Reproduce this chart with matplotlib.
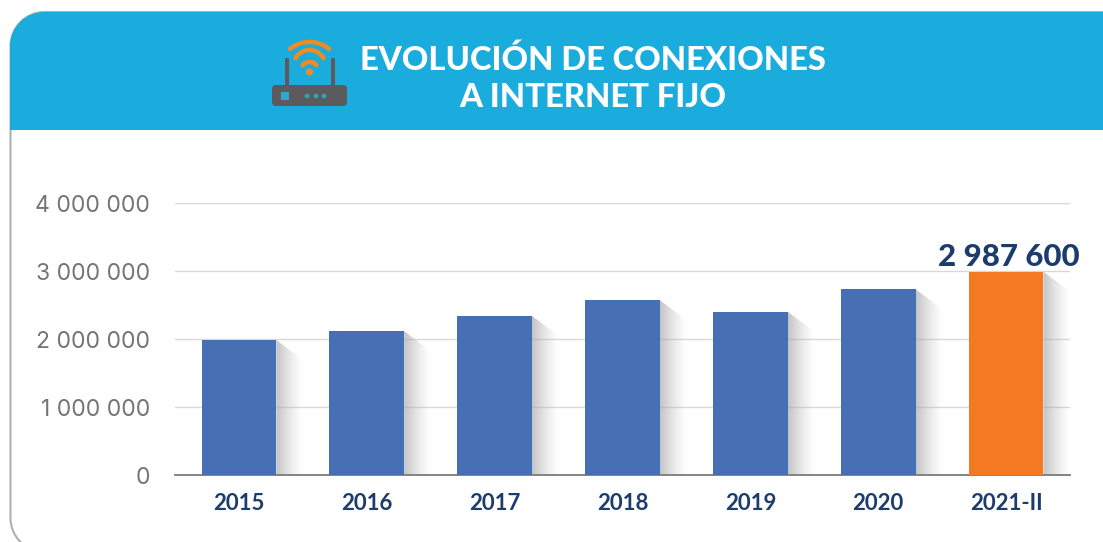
import numpy as np
import matplotlib
matplotlib.use("Agg")
import matplotlib.pyplot as plt
from matplotlib.patches import FancyBboxPatch, PathPatch, Rectangle, Circle, Polygon
from matplotlib.path import Path
from matplotlib.colors import LinearSegmentedColormap

categories = ["2015", "2016", "2017", "2018", "2019", "2020", "2021-II"]
values = [1985000, 2115000, 2340000, 2570000, 2400000, 2730000, 2987600]
yticks = [0, 1000000, 2000000, 3000000, 4000000]
ytick_labels = ["0", "1 000 000", "2 000 000", "3 000 000", "4 000 000"]
title = "EVOLUCIÓN DE CONEXIONES\nA INTERNET FIJO"
highlight = "2 987 600"

W, H = 1103, 542
BLUE, ORANGE, NAVY, GREY = "#466fb4", "#f47920", "#1c3c6e", "#757575"
BANNER = "#1aacdc"
plt.rcParams["font.family"] = ["Lato", "DejaVu Sans"]

fig = plt.figure(figsize=(W / 100, H / 100), dpi=100, facecolor="white")

# decoration layer in pixel coordinates
bg = fig.add_axes([0, 0, 1, 1], zorder=0)
bg.set_xlim(0, W); bg.set_ylim(H, 0); bg.axis("off")

def rounded(x0, x1, y0, y1, r, **kw):
    """Box open to the right, rounded on the left corners."""
    k = 0.45 * r
    verts = [(x1, y0), (x0 + r, y0), (x0 + k, y0), (x0, y0 + k), (x0, y0 + r),
             (x0, y1 - r), (x0, y1 - k), (x0 + k, y1), (x0 + r, y1), (x1, y1)]
    codes = [Path.MOVETO, Path.LINETO, Path.CURVE4, Path.CURVE4, Path.CURVE4,
             Path.LINETO, Path.CURVE4, Path.CURVE4, Path.CURVE4, Path.LINETO]
    return PathPatch(Path(verts, codes), **kw)

bg.add_patch(rounded(10.5, W + 5, 12, 552, 34, facecolor="white", edgecolor="#b0b0b0", lw=1.5))
# banner
k = 0.45 * 34
verts = [(W, 12), (44, 12), (10 + k, 12), (10, 12 + k), (10, 46), (10, 130), (W, 130), (W, 12)]
codes = [Path.MOVETO, Path.LINETO, Path.CURVE4, Path.CURVE4, Path.CURVE4, Path.LINETO, Path.LINETO, Path.CLOSEPOLY]
bg.add_patch(PathPatch(Path(verts, codes), facecolor=BANNER, edgecolor="none"))

bg.text(593, 78, title, color="white", ha="center", va="center", fontsize=23.6,
        fontweight="black", linespacing=1.34)

# router icon
DARK = "#5c5a5c"; WIFI = "#f28a24"; TEAL = "#2ba4b4"
bg.add_patch(FancyBboxPatch((272, 85), 75, 21, boxstyle="round,pad=0,rounding_size=4", fc=DARK, ec="none"))
bg.add_patch(FancyBboxPatch((285, 58), 4, 29, boxstyle="round,pad=0,rounding_size=1.5", fc=DARK, ec="none"))
bg.add_patch(FancyBboxPatch((331, 58), 4, 29, boxstyle="round,pad=0,rounding_size=1.5", fc=DARK, ec="none"))
bg.add_patch(Rectangle((281, 92), 8, 8, fc="#32a7cf", ec="none"))
for cx in (307, 316, 324):
    bg.add_patch(Circle((cx, 96), 2.4, fc=TEAL, ec="none"))
bg.add_patch(Circle((309.5, 72), 3.6, fc=WIFI, ec="none"))
for top, r, half in ((62, 9, 7), (50, 16, 14), (42, 31, 19.5)):
    span = np.arcsin(half / r)
    th = np.linspace(-span, span, 40)
    bg.plot(309.5 + r * np.sin(th), top + r - r * np.cos(th), color=WIFI, lw=3.2, solid_capstyle="round")

# chart
ax = fig.add_axes([175 / W, 1 - 475 / H, (1070 - 175) / W, (475 - 203) / H], zorder=1)
ax.patch.set_alpha(0)
x = np.arange(len(categories))
bar_w = 0.585
ax.set_yticks(yticks, ytick_labels)
ax.set_xticks(x, categories)
ax.grid(axis="y", color="#d8d8d8", lw=1)
ax.set_axisbelow(True)
for s in ("top", "right", "left"):
    ax.spines[s].set_visible(False)
ax.spines["bottom"].set_color("#7a7a7a")
ax.spines["bottom"].set_linewidth(1.3)
ax.tick_params(axis="y", length=0, pad=18, labelsize=16.5, labelcolor=GREY)
ax.tick_params(axis="x", length=0, pad=13, labelsize=16, labelcolor=NAVY)
for t in ax.get_xticklabels():
    t.set_fontweight("bold")
for t in ax.get_yticklabels():
    t.set_fontfamily(["Inter", "DejaVu Sans"])

shade = LinearSegmentedColormap.from_list("shade", [(0.62, 0.62, 0.62, 0.62), (0.75, 0.75, 0.75, 0.0)])
grad = np.linspace(0, 1, 64)[None, :]
sw = 0.2  # shadow width in category units
for xi, v in zip(x, values):
    right = xi + bar_w / 2
    im = ax.imshow(grad, cmap=shade, extent=(right, right + sw, 0, v), aspect="auto",
                   origin="lower", zorder=2, interpolation="bilinear")
    clip = Polygon([(right, 0), (right, v), (right + sw, v - 280000), (right + sw, 0)],
                   transform=ax.transData, fc="none", ec="none")
    ax.add_patch(clip)
    im.set_clip_path(clip)
ax.set_xlim(-0.5, len(categories) - 0.5)
ax.set_ylim(0, 4000000)

colors = [BLUE] * (len(values) - 1) + [ORANGE]
ax.bar(x, values, width=bar_w, color=colors, zorder=3)
ax.text(x[-1] + 0.02, values[-1] + 15000, highlight, color=NAVY, ha="center", va="bottom",
        fontsize=22.5, fontweight="black", zorder=4)

fig.savefig("out.png", dpi=100)
